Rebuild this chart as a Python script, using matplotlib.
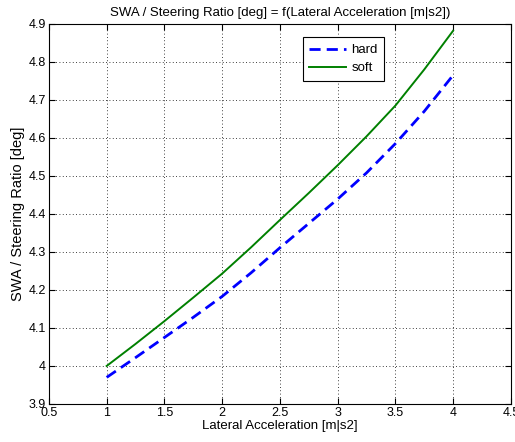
import matplotlib
matplotlib.use("Agg")
import matplotlib.pyplot as plt

# valores
lat_acc = [1.0, 1.25, 1.5, 1.75, 2.0, 2.25, 2.5, 2.75, 3.0, 3.25, 3.5, 3.75, 4.0]
swa_hard = [3.970, 4.022, 4.075, 4.128, 4.183, 4.245, 4.311, 4.375, 4.439, 4.508, 4.585, 4.670, 4.765]
swa_soft = [4.000, 4.058, 4.118, 4.180, 4.243, 4.312, 4.384, 4.455, 4.528, 4.604, 4.685, 4.780, 4.882]

x_ticks = [0.5, 1, 1.5, 2, 2.5, 3, 3.5, 4, 4.5]
y_ticks = [3.9, 4.0, 4.1, 4.2, 4.3, 4.4, 4.5, 4.6, 4.7, 4.8, 4.9]

plt.rcParams["font.family"] = ["Liberation Sans", "DejaVu Sans"]
plt.rcParams["font.size"] = 9

fig = plt.figure(figsize=(5.15, 4.42), dpi=100)
ax = fig.add_axes([0.095, 0.086, 0.897, 0.86])

ax.plot(lat_acc, swa_hard, color="#0000FF", linestyle=(0, (4, 2.2)), linewidth=2.0, label="hard")
ax.plot(lat_acc, swa_soft, color="#008000", linestyle="-", linewidth=1.4, label="soft")

ax.set_xlim(0.5, 4.5)
ax.set_ylim(3.9, 4.9)
ax.set_xticks(x_ticks)
ax.set_xticklabels([f"{v:g}" for v in x_ticks])
ax.set_yticks(y_ticks)
ax.set_yticklabels([f"{v:g}" for v in y_ticks])
ax.tick_params(direction="in", top=True, right=True, length=4, width=0.8, pad=2)
ax.grid(True, color="black", linestyle=(0, (1, 3)), linewidth=0.6)
for s in ax.spines.values():
    s.set_linewidth(0.8)

ax.set_xlabel("Lateral Acceleration [m|s2]", fontsize=9.5, labelpad=1)
ax.set_ylabel("SWA / Steering Ratio [deg]", fontsize=10.5, labelpad=3)
ax.set_title("SWA / Steering Ratio [deg] = f(Lateral Acceleration [m|s2])", fontsize=9.5, pad=6)

leg = ax.legend(loc="upper left", bbox_to_anchor=(0.535, 0.982), fancybox=False,
                edgecolor="black", framealpha=1, handlelength=2.8,
                borderpad=0.5, labelspacing=0.45, handletextpad=0.4, fontsize=9.5)
leg.get_frame().set_linewidth(0.8)

plt.savefig("out.png", dpi=100)
plt.close()
